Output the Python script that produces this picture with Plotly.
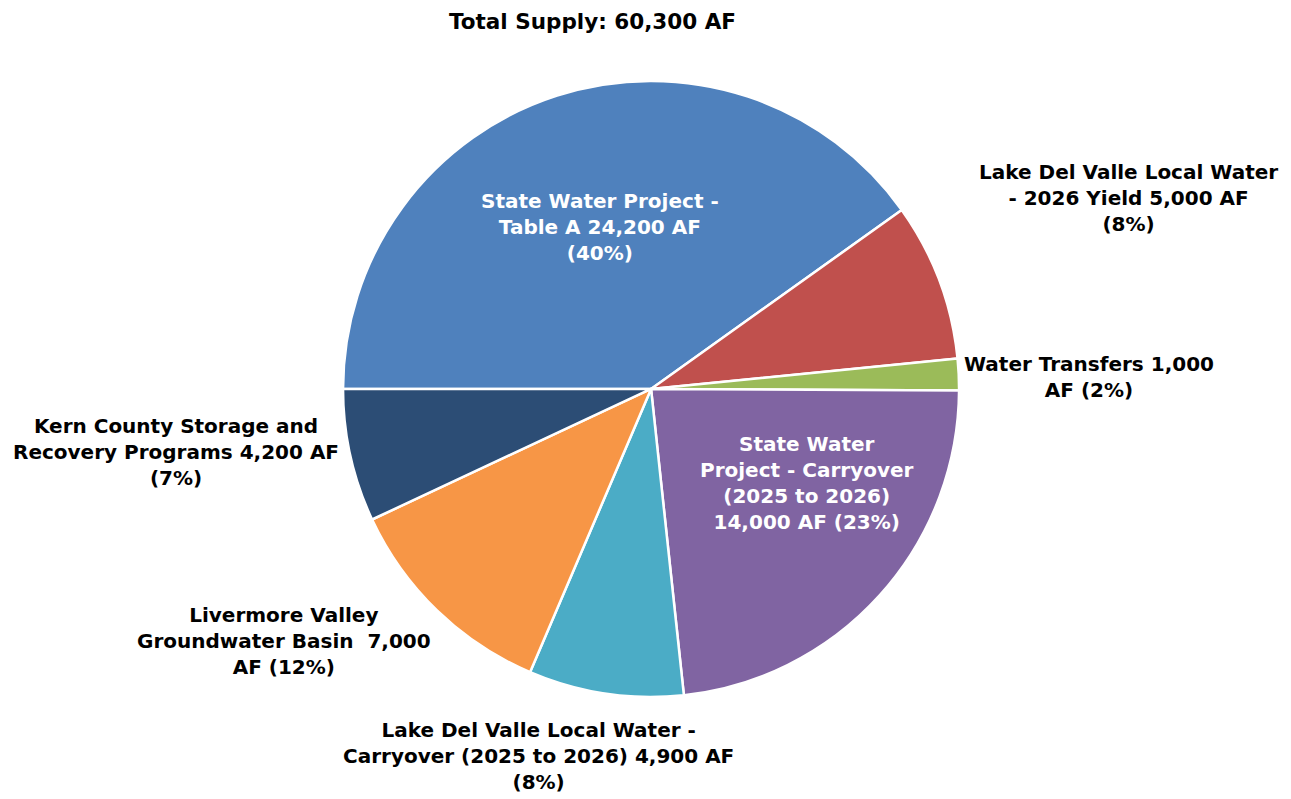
import plotly.graph_objects as go

# Fuentes de suministro
sources = [
    "State Water Project - Table A",
    "Lake Del Valle Local Water - 2026 Yield",
    "Water Transfers",
    "State Water Project - Carryover (2025 to 2026)",
    "Lake Del Valle Local Water - Carryover (2025 to 2026)",
    "Livermore Valley Groundwater Basin",
    "Kern County Storage and Recovery Programs",
]
supply_af = [24200, 5000, 1000, 14000, 4900, 7000, 4200]
slice_colors = ["#4F81BD", "#C0504D", "#9BBB59", "#8064A2", "#4BACC6", "#F79646", "#2C4D75"]

label_text = [
    "State Water Project -<br>Table A 24,200 AF<br>(40%)",
    "Lake Del Valle Local Water<br>- 2026 Yield 5,000 AF<br>(8%)",
    "Water Transfers 1,000<br>AF (2%)",
    "State Water<br>Project - Carryover<br>(2025 to 2026)<br>14,000 AF (23%)",
    "Lake Del Valle Local Water -<br>Carryover (2025 to 2026) 4,900 AF<br>(8%)",
    "Livermore Valley<br>Groundwater Basin  7,000<br>AF (12%)",
    "Kern County Storage and<br>Recovery Programs 4,200 AF<br>(7%)",
]
title_text = "Total Supply: 60,300 AF"

W, H = 1291, 799
FONT = "Tahoma, DejaVu Sans, sans-serif"
OFF = 8  # margen del body en la pagina

# posiciones de etiquetas en pixeles (x centro, y centro)
label_pos = [(600, 227), (1128, 198), (1089, 377), (807, 483), (538, 756), (284, 641), (176, 452)]
label_color = ["white", "black", "black", "white", "black", "black", "black"]

fig = go.Figure(
    go.Pie(
        labels=sources,
        values=supply_af,
        sort=False,
        direction="clockwise",
        rotation=270,
        marker=dict(colors=slice_colors, line=dict(color="white", width=2.5)),
        textinfo="none",
        hoverinfo="label+value+percent",
        domain=dict(x=[0.2595, 0.7367], y=[0.1377, 0.9087]),
        showlegend=False,
    )
)

annotations = [
    dict(x=(592 - OFF) / W, y=1.0, text="<b>" + title_text + "</b>", showarrow=False,
         xref="paper", yref="paper", xanchor="center", yanchor="top", borderpad=0,
         font=dict(family=FONT, size=21.5, color="black"))
]
for txt, (px_, py_), col in zip(label_text, label_pos, label_color):
    annotations.append(dict(
        x=(px_ - OFF) / W, y=1 - (py_ - OFF) / H, text="<b>" + txt + "</b>", showarrow=False,
        xref="paper", yref="paper", xanchor="center", yanchor="middle", align="center",
        font=dict(family=FONT, size=20, color=col),
    ))

fig.update_layout(
    width=W,
    height=H,
    margin=dict(t=0, r=0, b=0, l=0),
    paper_bgcolor="white",
    plot_bgcolor="white",
    annotations=annotations,
)

fig.write_html("out.html")
